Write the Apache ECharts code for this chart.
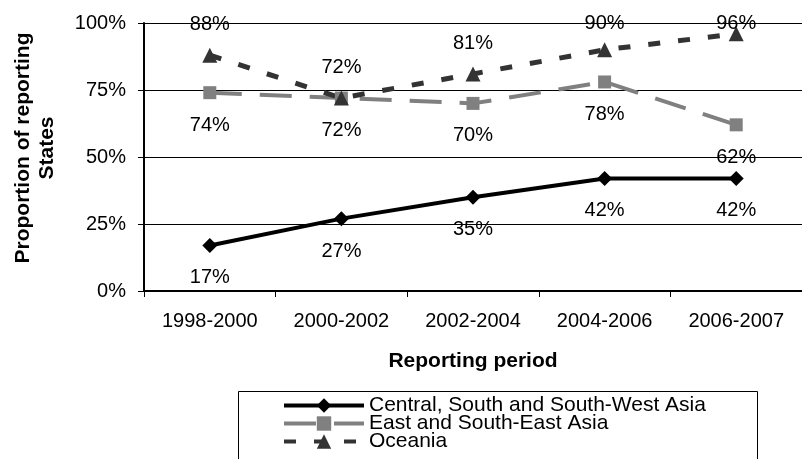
<!DOCTYPE html>
<html>
<head>
<meta charset="utf-8">
<script src="https://cdn.jsdelivr.net/npm/echarts@6/dist/echarts.min.js"></script>
<style>
  html, body { margin: 0; padding: 0; background: #fff; }
  #chart { width: 802px; height: 459px; }
</style>
</head>
<body>
<div id="chart"></div>
<script>
var periods = ["1998-2000", "2000-2002", "2002-2004", "2004-2006", "2006-2007"];
var centralAsia = [17, 27, 35, 42, 42];
var eastAsia = [74, 72, 70, 78, 62];
var oceania = [88, 72, 81, 90, 96];
var yTicks = [0, 25, 50, 75, 100];

var font = "Arial, 'Liberation Sans', sans-serif";

var myChart = echarts.init(document.getElementById("chart"));

function labelOpt(position, distance) {
  return {
    show: true,
    position: position,
    distance: distance,
    color: "#000",
    fontSize: 20,
    fontFamily: font,
    formatter: function (p) { return p.value + "%"; }
  };
}

var option = {
  animation: false,
  backgroundColor: "#fff",
  textStyle: { fontFamily: font },
  grid: { left: 144, right: -11, top: 23, bottom: 168 },
  // legend frame (runs off the bottom edge like the original)
  graphic: [
    {
      type: "rect",
      left: 238,
      top: 391,
      shape: { width: 519, height: 90 },
      style: { fill: "#fff", stroke: "#000", lineWidth: 1 },
      z: 1
    }
  ],
  xAxis: {
    type: "category",
    data: periods,
    boundaryGap: true,
    name: "Reporting period",
    nameLocation: "middle",
    nameGap: 60,
    nameTextStyle: { fontSize: 21, fontWeight: "bold", color: "#000", fontFamily: font },
    axisLine: { lineStyle: { color: "#000", width: 2 } },
    axisTick: { show: true, length: 6, lineStyle: { color: "#000" } },
    axisLabel: { color: "#000", fontSize: 20, margin: 20, fontFamily: font },
    splitLine: { show: false }
  },
  yAxis: {
    type: "value",
    min: yTicks[0],
    max: yTicks[yTicks.length - 1],
    interval: 25,
    name: "Proportion of reporting\nStates",
    nameLocation: "middle",
    nameGap: 85,
    nameTextStyle: {
      fontSize: 21, fontWeight: "bold", color: "#000", lineHeight: 24,
      fontFamily: font, align: "center", padding: [0, 0, 0, 18]
    },
    axisLine: { show: true, lineStyle: { color: "#000", width: 2 } },
    axisTick: { show: true, length: 6, lineStyle: { color: "#000" } },
    axisLabel: { color: "#000", fontSize: 20, margin: 18, fontFamily: font, formatter: "{value}%" },
    splitLine: { show: true, lineStyle: { color: "#000", width: 1 } }
  },
  legend: {
    orient: "vertical",
    left: 282,
    top: 395,
    padding: 0,
    itemWidth: 80,
    itemHeight: 18,
    itemGap: -3,
    z: 5,
    lineStyle: { width: 4 },
    textStyle: { color: "#000", fontSize: 21, lineHeight: 18, fontFamily: font },
    data: ["Central, South and South-West Asia", "East and South-East Asia", "Oceania"]
  },
  series: [
    {
      name: "Central, South and South-West Asia",
      type: "line",
      data: centralAsia,
      symbol: "diamond",
      symbolSize: 15,
      color: "#000",
      lineStyle: { color: "#000", width: 4 },
      itemStyle: { color: "#000" },
      label: labelOpt("bottom", 15)
    },
    {
      name: "East and South-East Asia",
      type: "line",
      data: eastAsia,
      symbol: "rect",
      symbolSize: 13,
      color: "#808080",
      lineStyle: { color: "#808080", width: 4, type: [32, 18] },
      itemStyle: { color: "#808080" },
      label: labelOpt("bottom", 16)
    },
    {
      name: "Oceania",
      type: "line",
      data: oceania,
      symbol: "triangle",
      symbolSize: 15,
      color: "#333",
      lineStyle: { color: "#333", width: 5, type: [12, 18] },
      itemStyle: { color: "#333" },
      label: labelOpt("top", 13),
      labelLayout: function (params) {
        // keep labels inside the top of the chart, like the original
        var r = params.labelRect;
        var cy = r.y + r.height / 2;
        if (cy < 23) {
          return { x: r.x + r.width / 2, y: 23, align: "center", verticalAlign: "middle" };
        }
      }
    }
  ]
};

myChart.setOption(option);
</script>
</body>
</html>
